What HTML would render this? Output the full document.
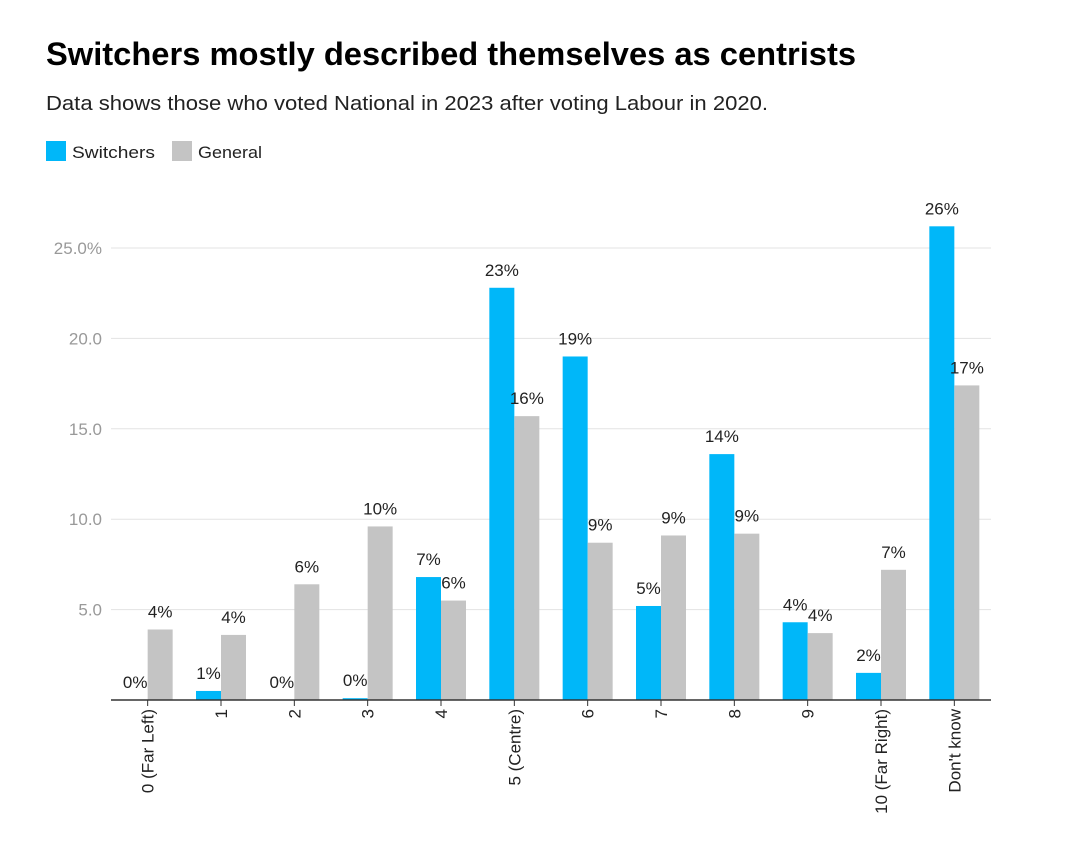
<!DOCTYPE html>
<html><head><meta charset="utf-8"><style>
body{margin:0;background:#fff;width:1088px;height:836px;overflow:hidden;font-family:"Liberation Sans",Arial,sans-serif;}
</style></head><body>
<svg width="1088" height="836" xmlns="http://www.w3.org/2000/svg" id="chart">
<text x="46" y="65" font-size="32" font-weight="bold" fill="#000" textLength="810" lengthAdjust="spacingAndGlyphs">Switchers mostly described themselves as centrists</text>
<text x="46" y="110" font-size="20" fill="#222" textLength="722" lengthAdjust="spacingAndGlyphs">Data shows those who voted National in 2023 after voting Labour in 2020.</text>
<g>
<rect x="46" y="141" width="20" height="20" fill="#00b7f9"/>
<text x="72" y="158" font-size="17" fill="#222" textLength="83" lengthAdjust="spacingAndGlyphs">Switchers</text>
<rect x="172" y="141" width="20" height="20" fill="#c4c4c4"/>
<text x="198" y="158" font-size="17" fill="#222" textLength="64" lengthAdjust="spacingAndGlyphs">General</text>
</g>
<g id="grid"></g><g id="bars"></g><g id="labels"></g><g id="xaxis"></g>
</svg>
<script>
const categories=["0 (Far Left)","1","2","3","4","5 (Centre)","6","7","8","9","10 (Far Right)","Don't know"];
const switchers=[0,0.5,0,0.1,6.8,22.8,19.0,5.2,13.6,4.3,1.5,26.2];
const general=[3.9,3.6,6.4,9.6,5.5,15.7,8.7,9.1,9.2,3.7,7.2,17.4];
const yTicks=[5,10,15,20,25];
const yTickLabels=["5.0","10.0","15.0","20.0","25.0%"];
const NS="http://www.w3.org/2000/svg";
const x0=111,x1=991,y0=700,pxPerUnit=18.08;
const bw=(x1-x0)/categories.length;
const yS=v=>y0-v*pxPerUnit;
const xS=i=>x0+bw*i+bw/2;
function mk(tag,attrs,parent){const e=document.createElementNS(NS,tag);for(const k in attrs)e.setAttribute(k,attrs[k]);parent.appendChild(e);return e;}
const grid=document.getElementById('grid'),bars=document.getElementById('bars'),labels=document.getElementById('labels'),xa=document.getElementById('xaxis');
yTicks.forEach((t,i)=>{
 const l=mk('line',{x1:x0,x2:x1,y1:yS(t),y2:yS(t),stroke:'#e3e3e3','stroke-width':1},grid);
 
 
 const tx=mk('text',{x:102,y:yS(t)+6,'font-size':17,fill:'#999','text-anchor':'end'},grid);
 tx.textContent=yTickLabels[i];
 
 
});
const W=25;
categories.forEach((c,i)=>{
 const cx=xS(i);
 [[switchers[i],'#00b7f9',cx-W,'switchers'],[general[i],'#c4c4c4',cx,'general']].forEach(([v,col,bx,nm])=>{
  const r=mk('rect',{x:bx,y:yS(v),width:W,height:v*pxPerUnit,fill:col},bars);
  
  
  const t=mk('text',{x:bx+W/2,y:yS(v)-12,'font-size':17,fill:'#222','text-anchor':'middle'},labels);
  t.textContent=Math.round(v)+'%';
  
  
 });
 const tl=mk('line',{x1:cx,x2:cx,y1:y0,y2:y0+6,stroke:'#333'},xa);
 
 
 const t=mk('text',{transform:`translate(${cx+6},${y0+9}) rotate(-90)`,'font-size':17,fill:'#222','text-anchor':'end'},xa);
 t.textContent=c;
 
 
});
const ax=mk('line',{x1:x0,x2:x1,y1:y0,y2:y0,stroke:'#333','stroke-width':1.5},xa);


</script>
</body></html>
